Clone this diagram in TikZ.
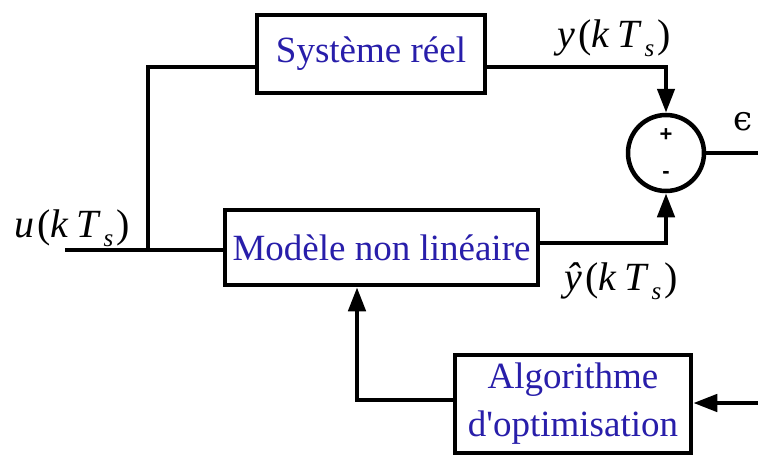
\documentclass[tikz,border=0pt]{standalone}
\usepackage{fontspec}
\setmainfont{Liberation Serif}
\newfontfamily\signfont{Liberation Sans}
\newfontfamily\epsfont{DejaVu Serif}
\usetikzlibrary{arrows.meta,calc}
\definecolor{txtblue}{RGB}{40,30,170}
\newcommand{\kts}[1]{\textit{#1}\hspace{3pt}(\textit{k}\hspace{8pt}\textit{T}\hspace{2pt}\raisebox{-9pt}{\fontsize{25}{25}\selectfont\textit{s}}\hspace{3pt})}
\begin{document}
\begin{tikzpicture}[x=1pt,y=-1pt,
  blockbox/.style={draw,line width=4.5pt,rectangle,inner sep=0pt,
    text=txtblue,font=\fontsize{37}{48}\selectfont,align=center},
  wire/.style={line width=4.5pt},
  arr/.style={wire,-{Triangle[length=24pt,width=17pt]}},
  lab/.style={font=\fontsize{40}{42}\selectfont,inner sep=0pt}]
\useasboundingbox (0,0) rectangle (758,458);
\fill[white] (0,0) rectangle (758,458);

\node[blockbox,minimum width=228pt,minimum height=78pt] (sys) at (371,54) {Système réel};
\node[blockbox,minimum width=313pt,minimum height=75pt] (mod) at (381.5,247.5) {Modèle non linéaire};
\node[blockbox,minimum width=236pt,minimum height=98pt] (alg) at (573,404) {Algorithme\\d\textquotesingle optimisation};
\node[draw,circle,line width=4.5pt,minimum size=76pt,inner sep=0pt] (sum) at (666,153) {};
\node[font=\signfont\bfseries\fontsize{22}{22}\selectfont] (plus) at (666,135) {+};
\node[font=\signfont\bfseries\fontsize{22}{22}\selectfont] (minus) at (666,175) {-};

\coordinate (uin) at (65,250);
\coordinate (split) at (148,250);
\coordinate (eout) at (758,153);
\coordinate (ain) at (758,403);

\draw[wire] (uin) -- (split) -- ([yshift=-2.5pt]mod.west);
\draw[wire] (split) |- ([yshift=-13pt]sys.west);
\draw[arr] ([yshift=-13pt]sys.east) -| (sum.north);
\draw[arr] ([yshift=4.5pt]mod.east) -| (sum.south);
\draw[wire] (sum.east) -- (eout);
\draw[arr] (ain) -- ([yshift=1pt]alg.east);
\draw[arr] ([yshift=4pt]alg.west) -| ([xshift=-24.5pt]mod.south);

\node[lab] (ulab) at (72,228) {\kts{u}};
\node[lab] (ylab) at (614,38) {\kts{y}};
\node[lab] (yhlab) at (621,281) {\kts{\^y}};
\node[lab,font=\epsfont\fontsize{34}{34}\selectfont] (elab) at (743,122) {ϵ};
\end{tikzpicture}
\end{document}
